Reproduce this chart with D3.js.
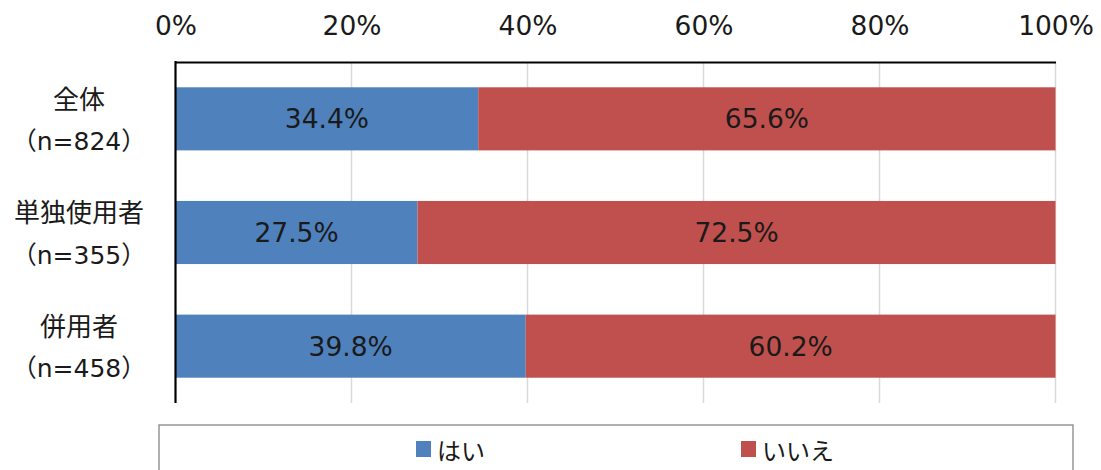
<!DOCTYPE html>
<html><head><meta charset="utf-8">
<script src="https://cdn.jsdelivr.net/npm/d3@7"></script>
<style>
body{margin:0;background:#fff;}
svg{display:block;font-family:"DejaVu Sans","Noto Sans CJK JP",sans-serif;}
</style></head>
<body><svg id="c" width="1101" height="470"></svg>
<script>
const categories = ["全体", "単独使用者", "併用者"];
const sampleLabels = ["（n=824）", "（n=355）", "（n=458）"];
const seriesNames = ["はい", "いいえ"];
const yesValues = [34.4, 27.5, 39.8];
const noValues = [65.6, 72.5, 60.2];
const tickValues = [0, 20, 40, 60, 80, 100];
const colors = ["#4F81BD", "#C0504D"];

const svg = d3.select("#c");
const m = {left: 175.5, right: 1055.5, top: 62, bottom: 403};
const x = d3.scaleLinear().domain([0, 100]).range([m.left, m.right]);
const y = d3.scaleBand().domain(categories).range([m.top, m.bottom]).paddingInner(0.445).paddingOuter(0.2225);
const NUM = 26.5;

// gridlines
svg.append("g").selectAll("line").data(tickValues.slice(1)).join("line")
  .attr("x1", d => x(d)).attr("x2", d => x(d))
  .attr("y1", m.top).attr("y2", m.bottom)
  .attr("stroke", "#d9d9d9").attr("stroke-width", 1.5);

// bars
const rows = categories.map((c, i) => ({c, vals: [yesValues[i], noValues[i]]}));
rows.forEach(r => {
  let acc = 0;
  r.vals.forEach((v, j) => {
    svg.append("rect")
      .attr("x", x(acc)).attr("y", y(r.c))
      .attr("width", x(acc + v) - x(acc)).attr("height", y.bandwidth())
      .attr("fill", colors[j]);
    svg.append("text")
      .attr("x", (x(acc) + x(acc + v)) / 2).attr("y", y(r.c) + y.bandwidth() / 2)
      .attr("text-anchor", "middle").attr("dy", "0.36em")
      .attr("font-size", NUM).attr("fill", "#1a1a1a")
      .text(v.toFixed(1) + "%");
    acc += v;
  });
});

// top axis
const axis = d3.axisTop(x).tickValues(tickValues).tickFormat(d => d + "%").tickSize(0).tickPadding(27);
const ag = svg.append("g").attr("transform", `translate(0,${m.top})`).call(axis);
ag.select(".domain").attr("stroke", "#000").attr("stroke-width", 2.2);
ag.selectAll("text").attr("font-size", NUM).attr("fill", "#1a1a1a").attr("font-family", "DejaVu Sans, Noto Sans CJK JP, sans-serif");

// left axis line
svg.append("line").attr("x1", m.left).attr("x2", m.left).attr("y1", m.top - 1).attr("y2", m.bottom)
  .attr("stroke", "#000").attr("stroke-width", 2.2);

// category labels
categories.forEach((c, i) => {
  const cy = y(c) + y.bandwidth() / 2;
  svg.append("text").attr("x", 79).attr("y", cy - 19.5).attr("dy", "0.36em")
    .attr("text-anchor", "middle").attr("font-size", 26).attr("fill", "#1a1a1a").text(c);
  svg.append("text").attr("x", 79).attr("y", cy + 22).attr("dy", "0.36em")
    .attr("text-anchor", "middle").attr("font-size", 25).attr("fill", "#1a1a1a").text(sampleLabels[i]);
});

// legend
svg.append("rect").attr("x", 159).attr("y", 425).attr("width", 914).attr("height", 60)
  .attr("fill", "#fff").attr("stroke", "#868686").attr("stroke-width", 1.3);
const legX = [416, 741];
seriesNames.forEach((s, i) => {
  svg.append("rect").attr("x", legX[i]).attr("y", 441).attr("width", 15).attr("height", 16).attr("fill", colors[i]);
  svg.append("text").attr("x", legX[i] + 21).attr("y", 451).attr("dy", "0.36em")
    .attr("font-size", 24).attr("fill", "#1a1a1a").text(s);
});
</script></body></html>
